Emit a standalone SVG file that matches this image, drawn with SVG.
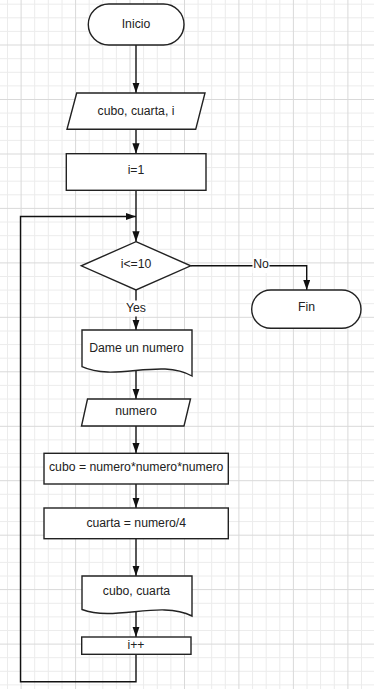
<svg xmlns="http://www.w3.org/2000/svg" width="374" height="689" viewBox="0 0 374 689">
  <style>
    .grid-minor { stroke: #ececec; stroke-width: 1; fill: none; }
    .grid-major { stroke: #d9d9d9; stroke-width: 1; fill: none; }
    .shape { fill: #ffffff; stroke: #222222; stroke-width: 1.4; }
    .edge { fill: none; stroke: #111111; stroke-width: 1.4; }
    .arrow { fill: none; stroke: #111111; stroke-width: 1.4; marker-end: url(#head); }
    .label { font-family: "Liberation Sans", Arial, sans-serif; font-size: 12.24px; fill: #222222; text-anchor: middle; }
    .tag { fill: #ffffff; stroke: none; }
  </style>
  <defs>
    <marker id="head" markerUnits="userSpaceOnUse" markerWidth="11" markerHeight="8" refX="10.5" refY="3.6" orient="auto">
      <path d="M0,0 L10.5,3.6 L0,7.2 Z" fill="#111111"/>
    </marker>
  </defs>

  <!-- background and grid -->
  <rect x="0" y="0" width="374" height="689" fill="#ffffff"/>
  <g id="grid">
    <path class="grid-minor" d="M7.5,0V689 M34.7,0V689 M48.3,0V689 M62,0V689 M89.2,0V689 M102.8,0V689 M116.4,0V689 M143.6,0V689 M157.3,0V689 M170.9,0V689 M198.1,0V689 M211.7,0V689 M225.3,0V689 M252.6,0V689 M266.2,0V689 M279.8,0V689 M307,0V689 M320.6,0V689 M334.3,0V689 M361.5,0V689
      M0,4.2H374 M0,17.8H374 M0,31.4H374 M0,58.7H374 M0,72.3H374 M0,85.9H374 M0,113.1H374 M0,126.7H374 M0,140.4H374 M0,167.6H374 M0,181.2H374 M0,194.8H374 M0,222H374 M0,235.7H374 M0,249.3H374 M0,276.5H374 M0,290.1H374 M0,303.7H374 M0,331H374 M0,344.6H374 M0,358.2H374 M0,385.4H374 M0,399H374 M0,412.7H374 M0,439.9H374 M0,453.5H374 M0,467.1H374 M0,494.3H374 M0,508H374 M0,521.6H374 M0,548.8H374 M0,562.4H374 M0,576H374 M0,603.3H374 M0,616.9H374 M0,630.5H374 M0,657.7H374 M0,671.3H374 M0,684.9H374"/>
    <path class="grid-major" d="M21.1,0V689 M75.6,0V689 M130,0V689 M184.5,0V689 M238.9,0V689 M293.4,0V689 M347.9,0V689
      M0,45H374 M0,99.5H374 M0,154H374 M0,208.4H374 M0,262.9H374 M0,317.3H374 M0,371.8H374 M0,426.3H374 M0,480.7H374 M0,535.2H374 M0,589.6H374 M0,644.1H374"/>
  </g>

  <!-- connectors -->
  <g id="connectors">
    <path class="arrow" d="M136,45 V93"/>
    <path class="arrow" d="M136,129.3 V153.7"/>
    <path class="arrow" d="M136,190.3 V241.7"/>
    <path class="arrow" d="M190.7,265.8 H306.7 V290"/>
    <path class="arrow" d="M136,290 V330"/>
    <path class="arrow" d="M136,370 V399"/>
    <path class="arrow" d="M136,426 V453.3"/>
    <path class="arrow" d="M136,484 V508"/>
    <path class="arrow" d="M136,538.7 V576"/>
    <path class="arrow" d="M136,612 V637"/>
    <path class="arrow" d="M136,654.3 V681.7 H20.5 V216.5 H136"/>
    <!-- branch labels -->
    <rect class="tag" x="252.5" y="258" width="17" height="15"/>
    <text class="label" x="261" y="268.3">No</text>
    <rect class="tag" x="124.5" y="300.5" width="23" height="16"/>
    <text class="label" x="136" y="312">Yes</text>
  </g>

  <!-- nodes -->
  <g id="inicio">
    <rect class="shape" x="88.3" y="4" width="95.7" height="41" rx="20.5" ry="20.5"/>
    <text class="label" x="136" y="27.7">Inicio</text>
  </g>
  <g id="declarar">
    <polygon class="shape" points="76.7,93 205,93 195.7,129.3 67,129.3"/>
    <text class="label" x="136" y="114.6">cubo, cuarta, i</text>
  </g>
  <g id="inicializar">
    <rect class="shape" x="66.3" y="153.7" width="139.7" height="36.6"/>
    <text class="label" x="136" y="174.3">i=1</text>
  </g>
  <g id="condicion">
    <polygon class="shape" points="136,241.7 190.7,265.8 136,290 81.3,265.8"/>
    <text class="label" x="136" y="268.3">i&lt;=10</text>
  </g>
  <g id="fin">
    <rect class="shape" x="251.7" y="290" width="109.3" height="38.3" rx="19.2" ry="19.2"/>
    <text class="label" x="306.5" y="311.3">Fin</text>
  </g>
  <g id="pedir">
    <path class="shape" d="M82,330 H192 V376 C160,358 115,382 82,366.7 Z"/>
    <text class="label" x="136.5" y="352.3">Dame un numero</text>
  </g>
  <g id="leer">
    <polygon class="shape" points="87.5,399 190.5,399 184,426 81.5,426"/>
    <text class="label" x="136" y="415.3">numero</text>
  </g>
  <g id="calc-cubo">
    <rect class="shape" x="44" y="453.3" width="184.3" height="30.7"/>
    <text class="label" x="136.2" y="471">cubo = numero*numero*numero</text>
  </g>
  <g id="calc-cuarta">
    <rect class="shape" x="44" y="508" width="184.3" height="30.7"/>
    <text class="label" x="136.2" y="526.7">cuarta = numero/4</text>
  </g>
  <g id="mostrar">
    <path class="shape" d="M82,576 H192 V616 C160,600 115,622 82,609.5 Z"/>
    <text class="label" x="136.5" y="595">cubo, cuarta</text>
  </g>
  <g id="incremento">
    <rect class="shape" x="81.7" y="637" width="109.3" height="17.3"/>
    <text class="label" x="136" y="649.3">i++</text>
  </g>
</svg>
